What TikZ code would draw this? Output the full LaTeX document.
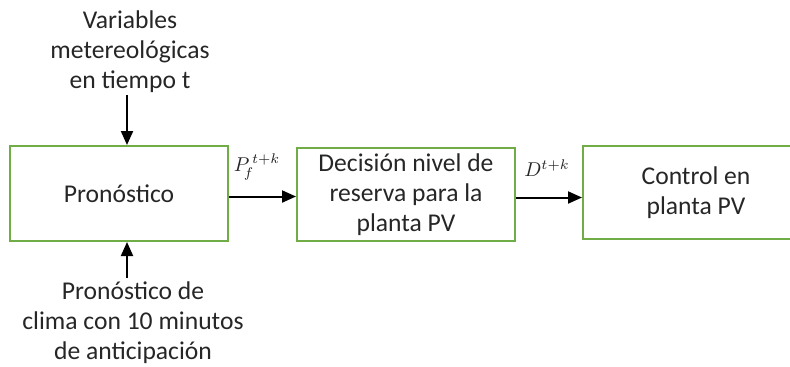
\documentclass[tikz,border=0pt]{standalone}
\usepackage{fontspec}
\setmainfont{Carlito}
\usetikzlibrary{arrows.meta}
\definecolor{boxgreen}{HTML}{70AD47}
\definecolor{txt}{HTML}{262626}
\tikzset{
  blk/.style={draw=boxgreen, line width=1pt, minimum height=47pt, align=center, text=txt, inner sep=0pt},
  lbl/.style={align=center, text=txt, inner sep=0pt},
  arr/.style={draw=black, line width=1pt, -{Triangle[length=7pt,width=6pt]}},
  mlbl/.style={text=txt, inner sep=0pt, font=\fontsize{10}{11}\selectfont}
}
\begin{document}
\begin{tikzpicture}[x=0.5pt,y=-0.5pt,font=\fontsize{12.8}{15}\selectfont]
\useasboundingbox (0,0) rectangle (790,366);
\clip (0,0) rectangle (790,366);
\node[blk, minimum width=109pt, minimum height=47.5pt] (b1) at (119,193.5) {Pronóstico};
\node[blk, minimum width=109pt, minimum height=46.5pt] (b2) at (406,194.5) {Decisión nivel de\\reserva para la\\planta PV};
\node[blk, minimum width=113pt, minimum height=46.5pt] (b3) at (696,192.5) {Control en\\planta PV};
\node[lbl] (top) at (130,52) {Variables\\metereológicas\\en tiempo t};
\node[lbl] (bot) at (133,323) {Pronóstico de\\clima con 10 minutos\\de anticipación};
\coordinate (ta) at (127,95);
\coordinate (ba) at (127,278);
\draw[arr] (ta) -- (ta |- b1.north);
\draw[arr] (ba) -- (ba |- b1.south);
\draw[arr] ([yshift=-1.5pt]b1.east) -- ([yshift=-1.5pt]b1.east -| b2.west);
\draw[arr] ([yshift=-1.5pt]b2.east) -- ([yshift=-1.5pt]b2.east -| b3.west);
\node[mlbl] (pf) at (257,167) {$P_{\!f}^{\,t+k}$};
\node[mlbl] (dk) at (547,168) {$D^{t+k}$};
\end{tikzpicture}
\end{document}
